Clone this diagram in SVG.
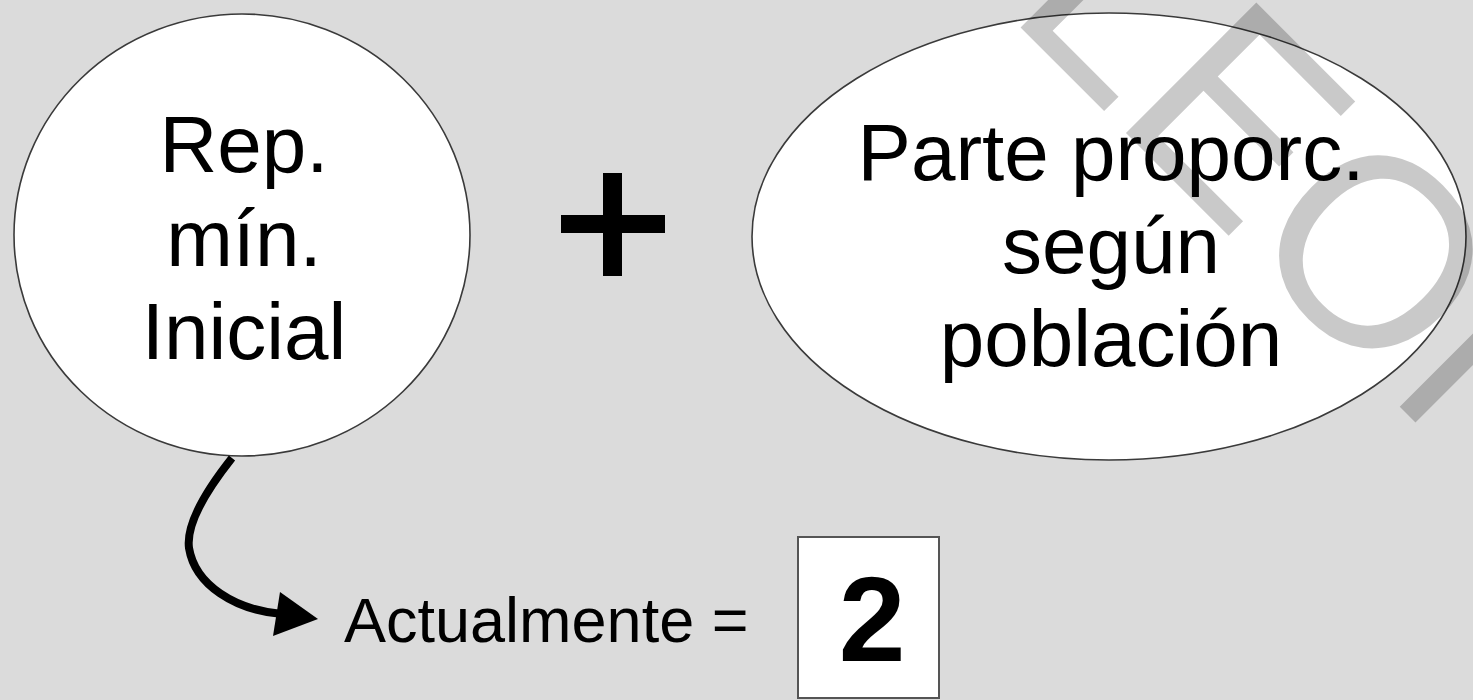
<svg xmlns="http://www.w3.org/2000/svg" width="1473" height="700" viewBox="0 0 1473 700">
<style>
.bg{fill:#dbdbdb}
.shape{fill:#ffffff;stroke:#3a3a3a;stroke-width:1.6}
.lbl{font-family:"Liberation Sans",Arial,sans-serif;fill:#000;text-anchor:middle}
.big{font-size:80px}
.wm{font-family:"Liberation Sans",Arial,sans-serif;font-size:268px;fill:#000;fill-opacity:0.21}
</style>
<rect class="bg" x="0" y="0" width="1473" height="700"/>
<g id="node-rep-min">
<ellipse class="shape" cx="242" cy="235" rx="228" ry="221"/>
<text class="lbl big" x="244" y="172">Rep.</text>
<text class="lbl big" x="244" y="266">mín.</text>
<text class="lbl big" x="244" y="359">Inicial</text>
</g>
<g id="plus">
<rect x="603" y="173" width="19" height="103" fill="#000"/>
<rect x="561" y="215" width="104" height="18" fill="#000"/>
</g>
<g id="node-parte">
<ellipse class="shape" cx="1109" cy="236.5" rx="357" ry="223.5"/>
<text class="lbl big" x="1111" y="180">Parte proporc.</text>
<text class="lbl big" x="1111" y="273">según</text>
<text class="lbl big" x="1111" y="366">población</text>
</g>
<g id="node-actual">
<text x="344" y="642" font-family="'Liberation Sans',Arial,sans-serif" font-size="63" fill="#000">Actualmente =</text>
<rect x="798" y="537" width="141" height="161" fill="#fff" stroke="#555" stroke-width="2"/>
<text class="lbl" x="872" y="661" font-size="120" font-weight="bold">2</text>
</g>
<g id="connectors">
<path d="M232,458 C205,492 186,525 189,548 C195,585 235,610 282,614" fill="none" stroke="#000" stroke-width="8"/>
<polygon points="318,619 280,592 273,636" fill="#000"/>
</g>
<text class="wm" transform="translate(1005,12) rotate(45)">LEON</text>
</svg>
